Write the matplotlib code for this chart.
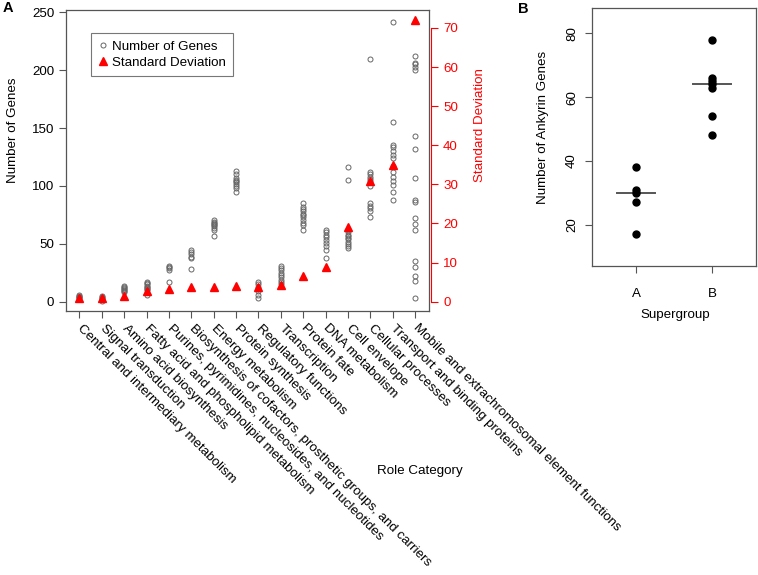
import matplotlib
matplotlib.use("Agg")
import matplotlib.pyplot as plt
from matplotlib.lines import Line2D

plt.rcParams['font.family'] = ['Liberation Sans', 'DejaVu Sans']

categories = [
    "Central and intermediary metabolism",
    "Signal transduction",
    "Amino acid biosynthesis",
    "Fatty acid and phospholipid metabolism",
    "Purines, pyrimidines, nucleosides, and nucleotides",
    "Biosynthesis of cofactors, prosthetic groups, and carriers",
    "Energy metabolism",
    "Protein synthesis",
    "Regulatory functions",
    "Transcription",
    "Protein fate",
    "DNA metabolism",
    "Cell envelope",
    "Cellular processes",
    "Transport and binding proteins",
    "Mobile and extrachromosomal element functions",
]

# number of genes per genome, one list per role category
genes = [
    [6, 5, 4, 4, 3],
    [5, 4, 3, 2, 1],
    [14, 13, 12, 11, 10, 9, 8],
    [17, 16, 15, 14, 13, 12, 11, 10, 6],
    [31, 30, 29, 27, 17],
    [45, 43, 41, 39, 38, 28],
    [71, 69, 68, 67, 66, 65, 64, 62, 57],
    [113, 110, 107, 105, 104, 103, 102, 100, 98, 95],
    [17, 15, 13, 11, 9, 6, 3],
    [31, 29, 27, 25, 23, 21, 19, 17, 15],
    [85, 82, 80, 78, 76, 75, 73, 71, 68, 66, 62],
    [62, 60, 58, 56, 53, 51, 48, 45, 38],
    [116, 105, 62, 60, 58, 57, 55, 54, 52, 50, 48, 46],
    [210, 112, 110, 108, 106, 104, 100, 85, 83, 81, 78, 73],
    [242, 155, 135, 134, 130, 127, 124, 117, 112, 108, 104, 101, 95, 88],
    [212, 206, 205, 203, 200, 143, 132, 107, 88, 86, 72, 67, 62, 35, 30, 22, 18, 3],
]
std_dev = [0.9, 0.9, 1.5, 2.7, 3.2, 3.7, 3.8, 3.9, 3.8, 4.3, 6.6, 8.9, 19.0, 30.9, 35.0, 72.0]

groups = ["A", "B"]
ankyrin_a = [38, 31, 30, 27, 17]
ankyrin_b = [78, 66, 65, 64, 63, 54, 48]

W, H = 758, 575
fig = plt.figure(figsize=(W / 100, H / 100), dpi=100)

frame_col = "#555555"
fs = 9.6

# ---- panel A ----
ax = fig.add_axes([66 / W, 1 - 311 / H, (428.5 - 66) / W, (311 - 10) / H])
xs = list(range(1, len(categories) + 1))
for x, vals in zip(xs, genes):
    ax.plot([x] * len(vals), vals, "o", mfc="none", mec="#666666", ms=3.6, mew=0.7,
            linestyle="none", zorder=3)
ax.set_xlim(0.4, 16.6)
ax.set_ylim(-8, 252)
ax.set_yticks(range(0, 251, 50))
ax.set_xticks(xs)
ax.set_xticklabels(categories, rotation=-45, ha="left", va="center",
                   rotation_mode="anchor", fontsize=fs)
ax.tick_params(axis="x", length=5, pad=6, color=frame_col)
ax.tick_params(axis="y", length=5, labelsize=fs, color=frame_col)
for s in ax.spines.values():
    s.set_color(frame_col)
    s.set_linewidth(0.9)

ax2 = ax.twinx()
ax2.plot(xs, std_dev, "^", color="red", ms=5.5, linestyle="none", zorder=4)
ax2.set_ylim(-2.4, 74.6)
ax2.set_yticks(range(0, 71, 10))
ax2.tick_params(axis="y", colors="red", length=5, labelsize=fs)
ax2.spines["right"].set_color("red")
ax2.spines["right"].set_bounds(0, 70)
ax2.spines["right"].set_position(("outward", 2))
for k in ["top", "left", "bottom"]:
    ax2.spines[k].set_visible(False)

handles = [
    Line2D([], [], marker="o", mfc="none", mec="#666666", ms=3.6, mew=0.7, linestyle="none"),
    Line2D([], [], marker="^", color="red", ms=5.5, linestyle="none"),
]
leg = ax.legend(handles, ["Number of Genes", "Standard Deviation"], loc="upper left",
                bbox_to_anchor=(91 / W, 1 - 33 / H), bbox_transform=fig.transFigure,
                fontsize=fs, frameon=True, fancybox=False, handlelength=0.7,
                handletextpad=0.3, borderpad=0.55, labelspacing=0.3, borderaxespad=0)
leg.get_frame().set_edgecolor(frame_col)
leg.get_frame().set_linewidth(0.8)

fig.text(13 / W, 1 - 130 / H, "Number of Genes", rotation=90, ha="center", va="center", fontsize=fs)
fig.text(480 / W, 1 - 125 / H, "Standard Deviation", rotation=90, ha="center", va="center",
         fontsize=fs, color="red")
fig.text(420 / W, 1 - 471 / H, "Role Category", ha="center", va="center", fontsize=fs)
fig.text(8 / W, 1 - 8 / H, "A", ha="center", va="center", fontsize=10.5, fontweight="bold")

# ---- panel B ----
bx = fig.add_axes([592 / W, 1 - 266 / H, (756 - 592) / W, (266 - 8) / H])
for x, vals in zip([1, 2], [ankyrin_a, ankyrin_b]):
    bx.plot([x] * len(vals), vals, "o", color="black", ms=5, linestyle="none", zorder=3)
    med = sorted(vals)[len(vals) // 2]
    bx.plot([x - 0.25, x + 0.25], [med, med], color="#555555", lw=1.4, zorder=2)
bx.set_xlim(0.42, 2.58)
bx.set_ylim(7, 88)
bx.set_xticks([1, 2])
bx.set_xticklabels(groups, fontsize=fs)
bx.set_yticks([20, 40, 60, 80])
bx.set_yticklabels(["20", "40", "60", "80"], rotation=90, va="center", fontsize=fs)
bx.tick_params(axis="x", length=5, color=frame_col, pad=11)
bx.tick_params(axis="y", length=5, color=frame_col, pad=5)
for s in bx.spines.values():
    s.set_color(frame_col)
    s.set_linewidth(0.9)
fig.text(543 / W, 1 - 127 / H, "Number of Ankyrin Genes", rotation=90, ha="center",
         va="center", fontsize=fs)
fig.text(675 / W, 1 - 315 / H, "Supergroup", ha="center", va="center", fontsize=fs)
fig.text(523 / W, 1 - 9 / H, "B", ha="center", va="center", fontsize=10.5, fontweight="bold")

fig.savefig("out.png", dpi=100)
